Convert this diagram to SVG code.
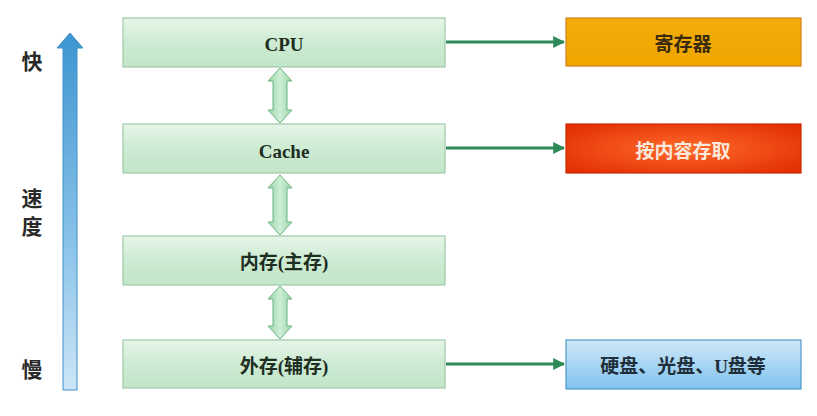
<svg xmlns="http://www.w3.org/2000/svg" width="817" height="416" viewBox="0 0 817 416">
<defs>
<linearGradient id="gGreen" x1="0" y1="0" x2="0" y2="1">
<stop offset="0" stop-color="#e6f6e8"/><stop offset="0.5" stop-color="#cdebd3"/><stop offset="1" stop-color="#c2e6c9"/>
</linearGradient>
<linearGradient id="gOrange" x1="0" y1="0" x2="0" y2="1">
<stop offset="0" stop-color="#f2ad0a"/><stop offset="1" stop-color="#efa500"/>
</linearGradient>
<radialGradient id="gRed" cx="0.5" cy="0.5" r="0.7">
<stop offset="0" stop-color="#ff6a2a"/><stop offset="1" stop-color="#e02a00"/>
</radialGradient>
<linearGradient id="gBlue" x1="0" y1="0" x2="0" y2="1">
<stop offset="0" stop-color="#cfe8f8"/><stop offset="1" stop-color="#80c2ee"/>
</linearGradient>
<linearGradient id="gBar" x1="0" y1="0" x2="0" y2="1">
<stop offset="0" stop-color="#3d95d0"/><stop offset="0.6" stop-color="#8cc4ea"/><stop offset="1" stop-color="#cde6f6"/>
</linearGradient>
<linearGradient id="gDbl" x1="0" y1="0" x2="1" y2="0">
<stop offset="0" stop-color="#98d4a6"/><stop offset="0.5" stop-color="#cdeed5"/><stop offset="1" stop-color="#98d4a6"/>
</linearGradient>
<marker id="ah" viewBox="0 0 10 10" refX="9" refY="5" markerWidth="4" markerHeight="4" orient="auto">
<path d="M0,0 L10,5 L0,10 z" fill="#2f8a5a"/>
</marker>
</defs>
<style>
.gbox{fill:url(#gGreen);stroke:#9fc9a8;stroke-width:1.2}
.t{font-family:"Liberation Serif","Noto Sans CJK SC",serif;font-weight:bold;font-size:19px;text-anchor:middle;dominant-baseline:central}
.dark{fill:#1e2e22}
.lbl{font-family:"Liberation Serif","Noto Sans CJK SC",serif;font-weight:bold;font-size:21px;text-anchor:middle;dominant-baseline:central;fill:#2a2a2a}
.conn{stroke:#2f8a5a;stroke-width:3;fill:none}
.dbl{fill:url(#gDbl);stroke:#6fb282;stroke-width:1}
</style>
<rect width="817" height="416" fill="#ffffff"/>

<g id="speed-axis">
<path d="M63,390 L63,48 L57,48 L70,33 L83,48 L77,48 L77,390 Z" fill="url(#gBar)" stroke="#3f90c8" stroke-width="1"/>
<text class="lbl" x="32" y="62">快</text>
<text class="lbl" x="32" y="199">速</text>
<text class="lbl" x="32" y="227">度</text>
<text class="lbl" x="32" y="370">慢</text>
</g>

<g id="connectors">
<line class="conn" x1="446" y1="42" x2="564" y2="42" marker-end="url(#ah)"/>
<line class="conn" x1="446" y1="148" x2="564" y2="148" marker-end="url(#ah)"/>
<line class="conn" x1="446" y1="364" x2="564" y2="364" marker-end="url(#ah)"/>
<path class="dbl" d="M280,68 L292,81 L287,81 L287,110 L292,110 L280,123 L268,110 L273,110 L273,81 L268,81 Z"/>
<path class="dbl" d="M280,175 L292,188 L287,188 L287,222 L292,222 L280,235 L268,222 L273,222 L273,188 L268,188 Z"/>
<path class="dbl" d="M280,286 L292,299 L287,299 L287,326 L292,326 L280,339 L268,326 L273,326 L273,299 L268,299 Z"/>
</g>

<g id="cpu"><rect class="gbox" x="123" y="18" width="322" height="49"/><text class="t dark" x="284" y="44">CPU</text></g>
<g id="cache"><rect class="gbox" x="123" y="124" width="322" height="49"/><text class="t dark" x="284" y="151">Cache</text></g>
<g id="main-memory"><rect class="gbox" x="123" y="236" width="322" height="49"/><text class="t dark" x="284" y="262">内存(主存)</text></g>
<g id="external-memory"><rect class="gbox" x="123" y="340" width="322" height="48"/><text class="t dark" x="284" y="366">外存(辅存)</text></g>

<g id="registers"><rect x="566" y="18" width="235" height="48" fill="url(#gOrange)" stroke="#d3801a" stroke-width="1.2"/><text class="t" x="683" y="44" fill="#3a2a10">寄存器</text></g>
<g id="content-access"><rect x="566" y="124" width="235" height="49" fill="url(#gRed)" stroke="#c82a00" stroke-width="1.2"/><text class="t" x="683" y="151" fill="#fbe8dc">按内容存取</text></g>
<g id="disks"><rect x="566" y="340" width="235" height="49" fill="url(#gBlue)" stroke="#4f9ac8" stroke-width="1.2"/><text class="t" x="683" y="366" fill="#1e2e3a">硬盘、光盘、U盘等</text></g>
</svg>
